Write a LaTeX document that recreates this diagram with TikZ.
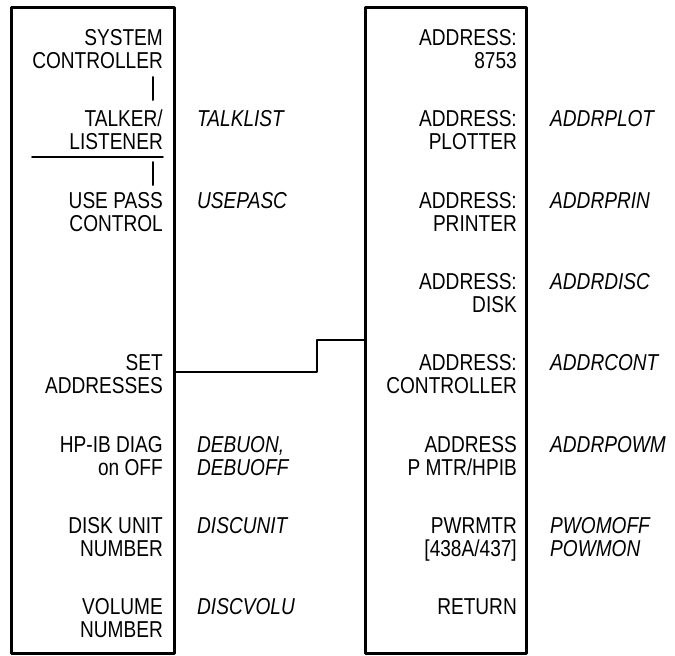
\documentclass[tikz,border=0pt]{standalone}
\usepackage{fontspec}
\setmainfont{Liberation Sans}[FakeStretch=0.83]
\usetikzlibrary{positioning}
\tikzset{
  menubox/.style={draw,line width=2.6pt,inner sep=0pt,anchor=north west},
  key/.style={anchor=base east,align=right,inner sep=0pt,font=\fontsize{23}{23}\selectfont},
  prog/.style={anchor=base west,align=left,inner sep=0pt,font=\fontsize{23}{23}\selectfont\itshape},
  conn/.style={line width=1.5pt}
}
\begin{document}
\begin{tikzpicture}[x=1pt,y=-1pt,line join=round,line cap=round]
			\useasboundingbox[fill=white] (0,0) rectangle (675,656);
			% the two menu columns
			\node[menubox,minimum width=163pt,minimum height=646pt] (lbox) at (10,6) {};
			\node[menubox,minimum width=161pt,minimum height=646pt] (rbox) at (364,6) {};
			
			% left column softkeys (base = last line)
			\node[key] (sysc) at (163,68.5) {SYSTEM\\CONTROLLER};
			\node[key] (talk) at (163,149.8) {TALKER/\\LISTENER};
			\node[key] (pass) at (163,231.1) {USE PASS\\CONTROL};
			\node[key] (seta) at (163,393.7) {SET\\ADDRESSES};
			\node[key] (diag) at (163,475) {HP-IB DIAG\\on OFF};
			\node[key] (unit) at (163,556.3) {DISK UNIT\\NUMBER};
			\node[key] (volu) at (163,637.6) {VOLUME\\NUMBER};
			
			\node[prog] (talkp) at (197,126.8) {TALKLIST};
			\node[prog] (passp) at (197,208.1) {USEPASC};
			\node[prog] (diagp) at (197,475) {DEBUON,\\DEBUOFF};
			\node[prog] (unitp) at (197,533.3) {DISCUNIT};
			\node[prog] (volup) at (197,614.6) {DISCVOLU};
			
			% right column softkeys
			\node[key] (a8753) at (517,68.5) {ADDRESS:\\8753};
			\node[key] (aplot) at (517,149.8) {ADDRESS:\\PLOTTER};
			\node[key] (aprin) at (517,231.1) {ADDRESS:\\PRINTER};
			\node[key] (adisc) at (517,312.4) {ADDRESS:\\DISK};
			\node[key] (acont) at (517,393.7) {ADDRESS:\\CONTROLLER};
			\node[key] (apowm) at (517,475) {ADDRESS\\P MTR/HPIB};
			\node[key] (pwr) at (517,556.3) {PWRMTR\\{[438A/437]}};
			\node[key] (ret) at (517,614.6) {RETURN};
			
			\node[prog] (aplotp) at (550,126.8) {ADDRPLOT};
			\node[prog] (aprinp) at (550,208.1) {ADDRPRIN};
			\node[prog] (adiscp) at (550,289.4) {ADDRDISC};
			\node[prog] (acontp) at (550,370.7) {ADDRCONT};
			\node[prog] (apowmp) at (550,452) {ADDRPOWM};
			\node[prog] (pwrp) at (550,556.3) {PWOMOFF\\POWMON};
			
			% toggle marks
			\draw[line width=2pt] (153,77)--(153,100) (153,162)--(153,185);
			\draw[line width=1.8pt] (32,157)--(163,157);
			
			% set addresses leads to the address menu
			\coordinate (setpt) at (lbox.east |- 0,372);
			\coordinate (jog) at (317,340);
			\draw[conn] (setpt) -| (jog) -- (jog -| rbox.west);
		\end{tikzpicture}
\end{document}
